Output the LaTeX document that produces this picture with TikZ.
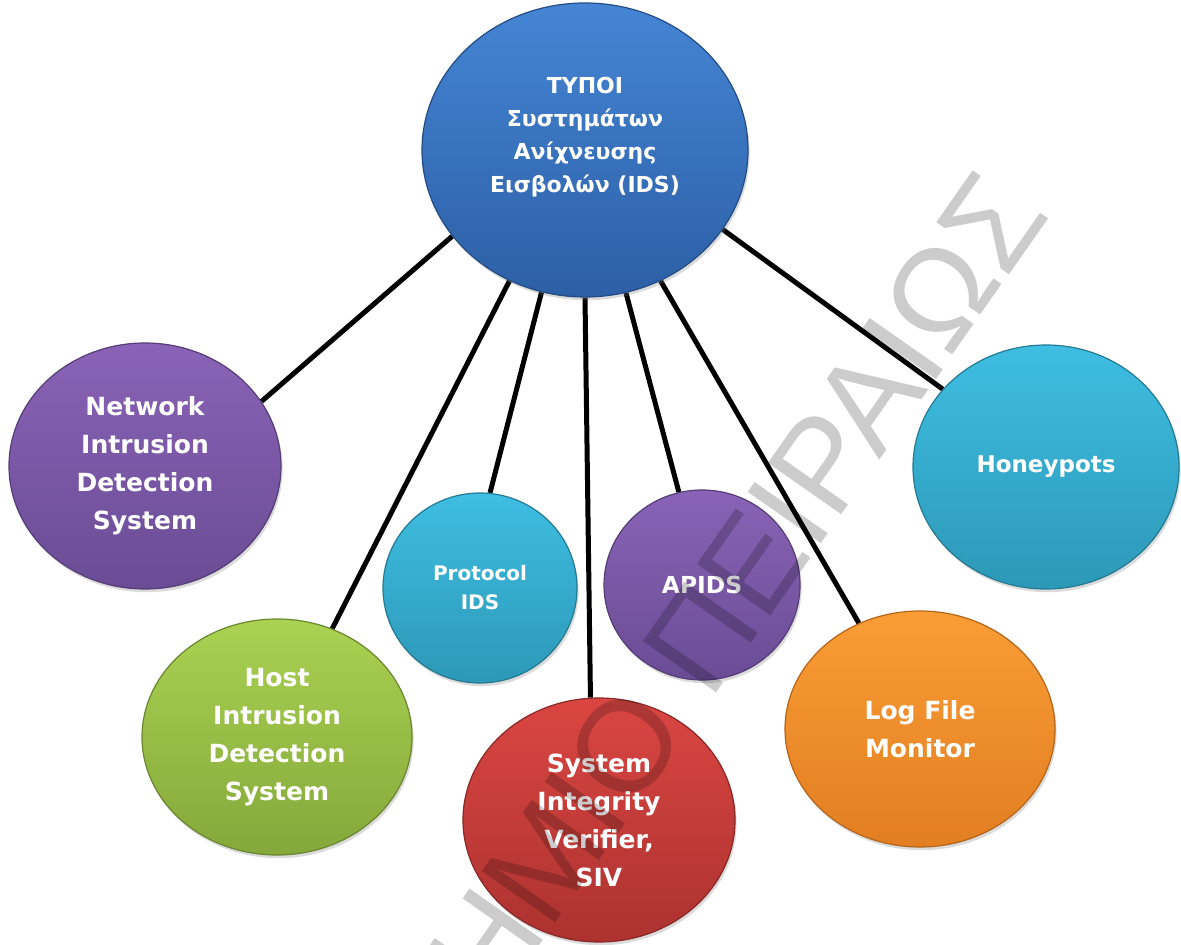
\documentclass[tikz,border=0pt]{standalone}
\usepackage{fontspec}
\setmainfont{DejaVu Sans}
\newfontfamily\wmfont{Liberation Sans}
\usetikzlibrary{shapes.geometric,shadows,backgrounds}
\definecolor{bluetop}{HTML}{4585D4}
\definecolor{bluebot}{HTML}{2C5FA5}
\definecolor{purptop}{HTML}{8A63B6}
\definecolor{purpbot}{HTML}{6A4C95}
\definecolor{greentop}{HTML}{AAD252}
\definecolor{greenbot}{HTML}{84A83B}
\definecolor{cyantop}{HTML}{3EBEE2}
\definecolor{cyanbot}{HTML}{2D98B7}
\definecolor{redtop}{HTML}{DA4642}
\definecolor{redbot}{HTML}{AC3230}
\definecolor{orangetop}{HTML}{FA9D35}
\definecolor{orangebot}{HTML}{E27E22}
\tikzset{
  bubble/.style={ellipse, inner sep=0pt, align=center, text=white,
    font=\bfseries\fontsize{12.5}{19}\selectfont, line width=0.6pt,
    drop shadow={opacity=0.28, shadow xshift=0.8pt, shadow yshift=-1.6pt}},
  bluebub/.style={bubble, top color=bluetop, bottom color=bluebot, draw=bluebot!80!black},
  purpbub/.style={bubble, top color=purptop, bottom color=purpbot, draw=purpbot!80!black},
  greenbub/.style={bubble, top color=greentop, bottom color=greenbot, draw=greenbot!80!black},
  cyanbub/.style={bubble, top color=cyantop, bottom color=cyanbot, draw=cyanbot!80!black},
  redbub/.style={bubble, top color=redtop, bottom color=redbot, draw=redbot!80!black},
  orangebub/.style={bubble, top color=orangetop, bottom color=orangebot, draw=orangebot!80!black},
  link/.style={line width=2.5pt, black},
  lbl/.style={text=white, align=center, inner sep=0pt}
}
\begin{document}
\begin{tikzpicture}[x=0.5pt, y=-0.5pt]
\useasboundingbox (0,0) rectangle (1181,945);
\clip (0,0) rectangle (1181,945);

\node[bluebub, minimum width=163pt, minimum height=147pt] (c) at (585,150) {};
\node[lbl, font=\bfseries\fontsize{11}{16.5}\selectfont] (ctext) at (585,137)
  {ΤΥΠΟΙ\\Συστημάτων\\Ανίχνευσης\\Εισβολών (IDS)};

\node[purpbub, minimum width=136pt, minimum height=123pt] (net) at (145,466)
  {Network\\Intrusion\\Detection\\System};
\node[greenbub, minimum width=135pt, minimum height=118pt] (host) at (277,737)
  {Host\\Intrusion\\Detection\\System};
\node[cyanbub, minimum width=97pt, minimum height=95pt,
  font=\bfseries\fontsize{10}{14.5}\selectfont] (prot) at (480,588)
  {Protocol\\IDS};
\node[purpbub, minimum width=98pt, minimum height=95pt,
  font=\bfseries\fontsize{11.7}{16}\selectfont] (apids) at (702,585)
  {APIDS};
\node[redbub, minimum width=136pt, minimum height=122pt] (siv) at (599,820)
  {System\\Integrity\\Verifier,\\SIV};
\node[orangebub, minimum width=135pt, minimum height=118pt] (log) at (920,729)
  {Log File\\Monitor};
\node[cyanbub, minimum width=133pt, minimum height=122pt,
  font=\bfseries\fontsize{11.5}{16}\selectfont] (honey) at (1046,467)
  {Honeypots};

\begin{scope}[on background layer]
  \fill[white] (0,0) rectangle (1181,945);
  \draw[link] (c.213.7) -- (net.29.4);
  \draw[link] (c.240.3) -- (host.63.8);
  \draw[link] (c.253.5) -- (prot.84);
  \draw[link] (c.270) -- (siv.94);
  \draw[link] (c.286.7) -- (apids.104);
  \draw[link] (c.300.3) -- (log.120.8);
  \draw[link] (c.330.5) -- (honey.143.3);
\end{scope}

\node[anchor=base east, rotate=55, inner sep=0pt, text=black, text opacity=0.2,
  font=\wmfont\fontsize{65}{65}\selectfont] (wm) at (1052,214)
  {ΠΑΝΕΠΙΣΤΗΜΙΟ ΠΕΙΡΑΙΩΣ};
\end{tikzpicture}
\end{document}
